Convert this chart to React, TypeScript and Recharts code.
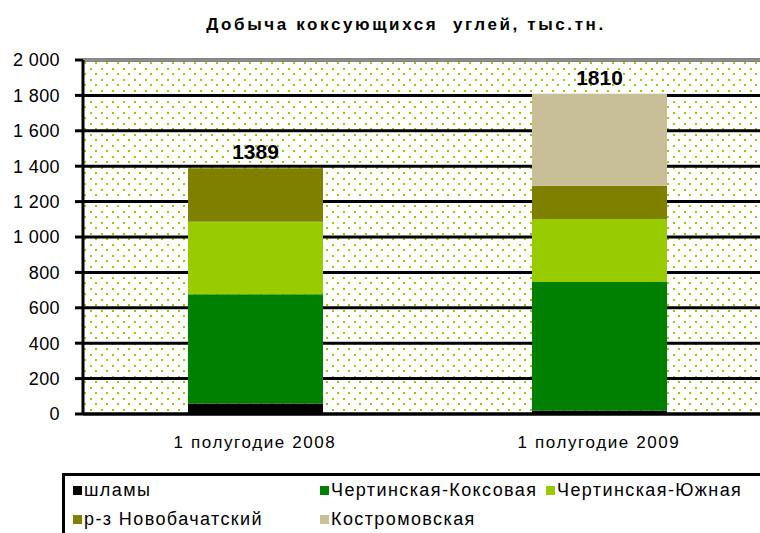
import * as React from 'react'
import {
  BarChart,
  Bar,
  XAxis,
  YAxis,
  CartesianGrid,
  ReferenceLine,
  LabelList,
  Legend,
} from 'recharts'

const periods = ['1 полугодие 2008', '1 полугодие 2009']
const seriesNames = [
  'шламы',
  'Чертинская-Коксовая',
  'Чертинская-Южная',
  'р-з Новобачатский',
  'Костромовская',
]
const shlamy = [60, 20]
const koksovaya = [616, 726]
const yuzhnaya = [410, 356]
const novobachatsky = [303, 188]
const kostromovskaya = [0, 520]
const totals = [1389, 1810]
const yTicks = [0, 200, 400, 600, 800, 1000, 1200, 1400, 1600, 1800, 2000]

const COLORS = ['#000000', '#008000', '#99cc00', '#808000', '#c8bf98']
const FONT = '"Liberation Sans", Arial, sans-serif'

const seriesValues = [shlamy, koksovaya, yuzhnaya, novobachatsky, kostromovskaya]
const keys = ['s0', 's1', 's2', 's3', 's4']

// each period occupies one unit on the x scale, bar centred in it
const data = periods.map((period, i) => {
  const row: Record<string, string | number> = { period, slot: i + 0.5, total: totals[i] }
  seriesValues.forEach((vals, k) => {
    row[keys[k]] = vals[i]
  })
  return row
})

// the original plot area runs past the right edge of the picture
const X_MAX = 677 / 344

const topSeries = periods.map((_, i) => {
  let top = 0
  seriesValues.forEach((vals, k) => {
    if (vals[i] > 0) top = k
  })
  return top
})

const formatThousands = (v: number) =>
  String(v).replace(/\B(?=(\d{3})+(?!\d))/g, ' ')

const legendSlots = [
  [8, 4],
  [255, 4],
  [481, 4],
  [8, 33],
  [255, 33],
]

function LegendBox() {
  return (
    <div
      style={{
        position: 'relative',
        width: 698,
        height: 60,
        borderTop: '3px solid #000',
        borderLeft: '3px solid #000',
        boxSizing: 'border-box',
        background: '#fff',
        fontFamily: FONT,
        fontSize: 18,
        color: '#000',
        overflow: 'hidden',
      }}
    >
      {seriesNames.map((name, i) => (
        <div
          key={name}
          style={{
            position: 'absolute',
            left: legendSlots[i][0],
            top: legendSlots[i][1],
            display: 'flex',
            alignItems: 'center',
            whiteSpace: 'nowrap',
            letterSpacing: 1.4,
          }}
        >
          <span
            style={{
              display: 'inline-block',
              width: 9,
              height: 9,
              background: COLORS[i],
              marginRight: 2,
            }}
          />
          {name}
        </div>
      ))}
    </div>
  )
}

const makeTotalLabel = (seriesIndex: number) => (props: any) => {
  const { x, y, width, value } = props
  const col = totals.indexOf(Number(value))
  if (col < 0 || topSeries[col] !== seriesIndex) return null
  return (
    <text
      x={Number(x) + Number(width) / 2}
      y={Number(y) - 9}
      textAnchor="middle"
      fill="#000"
      fontSize={21}
      fontWeight="bold"
      fontFamily={FONT}
    >
      {totals[col]}
    </text>
  )
}

export default function App() {
  return (
    <div
      style={{
        position: 'fixed',
        left: 0,
        top: 0,
        width: 760,
        height: 533,
        overflow: 'hidden',
        background: '#fff',
      }}
    >
      <div
        style={{
          position: 'absolute',
          left: 0,
          top: 15,
          width: 812,
          textAlign: 'center',
          fontFamily: FONT,
          fontWeight: 'bold',
          fontSize: 17,
          letterSpacing: 2.6,
          color: '#000',
          whiteSpace: 'nowrap',
        }}
      >
        Добыча коксующихся&nbsp; углей, тыс.тн.
      </div>
      <BarChart
        width={760}
        height={533}
        data={data}
        margin={{ top: 60, right: 0, left: 0, bottom: 79 }}
        barSize={135}
        style={{ position: 'absolute', left: 0, top: 0 }}
      >
        <defs>
          <pattern id="dots" width="11" height="11" patternUnits="userSpaceOnUse">
            <rect width="11" height="11" fill="#ffffff" />
            <rect x="2" y="2" width="2" height="2" fill="#99cc00" />
            <rect x="7" y="7" width="2" height="2" fill="#99cc00" />
          </pattern>
        </defs>
        <CartesianGrid
          vertical={false}
          stroke="#000"
          strokeWidth={3}
          fill="url(#dots)"
          fillOpacity={1}
        />
        <XAxis
          xAxisId="bounds"
          type="number"
          domain={[0, X_MAX]}
          allowDataOverflow
          ticks={[0, 1]}
          height={0}
          axisLine={false}
          tick={false}
          tickSize={6}
          tickLine={{ stroke: '#000', strokeWidth: 3 }}
        />
        <XAxis
          dataKey="slot"
          type="number"
          domain={[0, X_MAX]}
          allowDataOverflow
          ticks={[0.5, 1.5]}
          tickFormatter={(v: number) => periods[Math.floor(v)] ?? ''}
          height={40}
          axisLine={{ stroke: '#000', strokeWidth: 3 }}
          tickLine={false}
          tickMargin={16}
          tick={{ fill: '#000', fontSize: 17, fontFamily: FONT, letterSpacing: 1.6 }}
        />
        <YAxis
          width={83}
          domain={[0, 2000]}
          ticks={yTicks}
          interval={0}
          tickFormatter={formatThousands}
          axisLine={{ stroke: '#000', strokeWidth: 3 }}
          tickLine={{ stroke: '#000', strokeWidth: 3 }}
          tickSize={8}
          tickMargin={15}
          tick={{ fill: '#000', fontSize: 18, fontFamily: FONT, letterSpacing: 0.4 }}
        />
        {keys.map((key, i) => (
          <Bar
            key={key}
            dataKey={key}
            name={seriesNames[i]}
            stackId="a"
            fill={COLORS[i]}
            isAnimationActive={false}
          >
            <LabelList dataKey="total" content={makeTotalLabel(i)} />
          </Bar>
        ))}
        <ReferenceLine y={2000} stroke="#8c8c8c" strokeWidth={3} />
        <Legend
          layout="horizontal"
          verticalAlign="middle"
          align="center"
          wrapperStyle={{ left: 62, top: 473, width: 698, height: 60 }}
          content={() => <LegendBox />}
        />
      </BarChart>
    </div>
  )
}
